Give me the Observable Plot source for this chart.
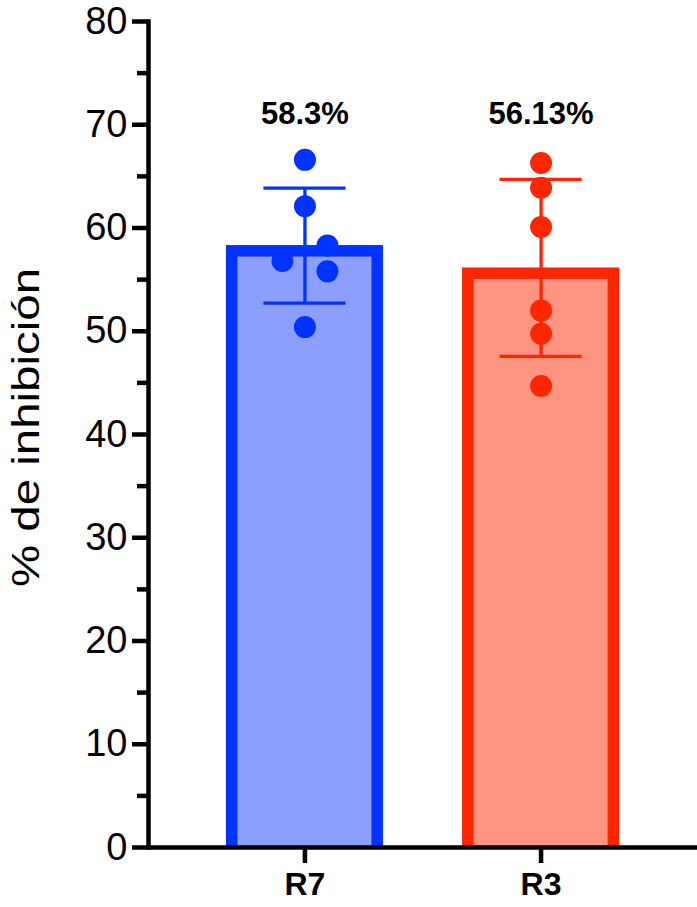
<!DOCTYPE html>
<html>
<head>
<meta charset="utf-8">
<script src="https://cdn.jsdelivr.net/npm/d3@7"></script>
<script src="https://cdn.jsdelivr.net/npm/@observablehq/plot@0.6"></script>
<style>
  html, body { margin: 0; padding: 0; background: #fff; overflow: hidden; }
  #chart svg { display: block; }
</style>
</head>
<body>
<div id="chart"></div>
<script>
// ---- data ----
const categories = ["R7", "R3"];
const means = [58.3, 56.13];
const sds = [5.57, 8.57];
const meanLabels = ["58.3%", "56.13%"];
const r7Points = [66.6, 62.1, 58.3, 56.8, 55.8, 50.4];
const r3Points = [66.3, 63.9, 60.1, 52.0, 49.75, 44.7];
// scatter column of each replicate (as laid out in the original dot plot)
const r7Columns = [0, 0, 1, -1, 1, 0];
const r3Columns = [0, 0, 0, 0, 0, 0];
const yMajorTicks = [0, 10, 20, 30, 40, 50, 60, 70, 80];
const yMinorTicks = [5, 15, 25, 35, 45, 55, 65, 75];
const yTitle = "% de inhibición";

// ---- styles ----
const strokeColors = ["#0033ff", "#ff2600"];
const fillColors = ["#8c9eff", "#ff9480"];

const rows = categories.map((c, i) => ({cat: c, mean: means[i], sd: sds[i], label: meanLabels[i]}));
const pointSets = [r7Points, r3Points];
const columnSets = [r7Columns, r3Columns];

const marks = [];
rows.forEach((row, i) => {
  const stroke = strokeColors[i];
  marks.push(Plot.barY([row], {x: "cat", y: "mean", fill: fillColors[i], stroke, strokeWidth: 11.5,
    insetLeft: 5.75, insetRight: 5.75, insetTop: 5.75, insetBottom: -8, clip: "frame"}));
  marks.push(Plot.ruleX([row], {x: "cat", y1: d => d.mean - d.sd, y2: d => d.mean + d.sd, stroke, strokeWidth: 3.3}));
  marks.push(Plot.tickY([row], {x: "cat", y: d => d.mean + d.sd, stroke, strokeWidth: 3.3, inset: 37.5}));
  marks.push(Plot.tickY([row], {x: "cat", y: d => d.mean - d.sd, stroke, strokeWidth: 3.3, inset: 37.5}));
  const pts = pointSets[i].map((v, j) => ({cat: row.cat, value: v, col: columnSets[i][j]}));
  [-1, 0, 1].forEach(col => {
    const sub = pts.filter(p => p.col === col);
    if (sub.length) marks.push(Plot.dot(sub, {x: "cat", y: "value", r: 11, fill: stroke, stroke: "none", dx: col * 22.5}));
  });
});

marks.push(Plot.text(rows, {x: "cat", text: "label", frameAnchor: "top", dy: 92.3, fontSize: 31, fontWeight: "bold", lineAnchor: "middle", fill: "#000"}));
marks.push(Plot.text([yTitle], {frameAnchor: "left", rotate: -90, dx: -122, dy: -7, fontSize: 38, textAnchor: "middle", lineAnchor: "middle", fill: "#000"}));

// axes
marks.push(Plot.axisY({ticks: yMinorTicks, tickSize: 11, tickFormat: () => "", strokeWidth: 4.5, label: null}));
marks.push(Plot.axisY({ticks: yMajorTicks, tickSize: 16, tickPadding: 5, fontSize: 38, strokeWidth: 4.5, label: null, fill: "#000"}));
marks.push(Plot.axisX({tickSize: 16, tickPadding: 9, fontSize: 32, fontWeight: "bold", strokeWidth: 4.5, label: null, fill: "#000"}));
marks.push(Plot.ruleY([0], {strokeWidth: 4.5, stroke: "#000"}));
marks.push(Plot.frame({anchor: "left", strokeWidth: 4.5, stroke: "#000"}));

const chart = Plot.plot({
  width: 697,
  height: 907,
  marginLeft: 148,
  marginRight: 0,
  marginTop: 21,
  marginBottom: 60,
  style: {fontFamily: "'Liberation Sans', Arial, Helvetica, sans-serif", background: "#fff", overflow: "visible"},
  x: {type: "band", domain: categories, paddingInner: 0.335, paddingOuter: 0.33, round: false, axis: null},
  y: {domain: [0, 80], axis: null},
  marks
});

document.getElementById("chart").appendChild(chart);

// stretch the axis title to the original's length
d3.select(chart).selectAll("text").filter(function() { return this.textContent === yTitle; })
  .attr("textLength", 319).attr("lengthAdjust", "spacingAndGlyphs");
</script>
</body>
</html>
